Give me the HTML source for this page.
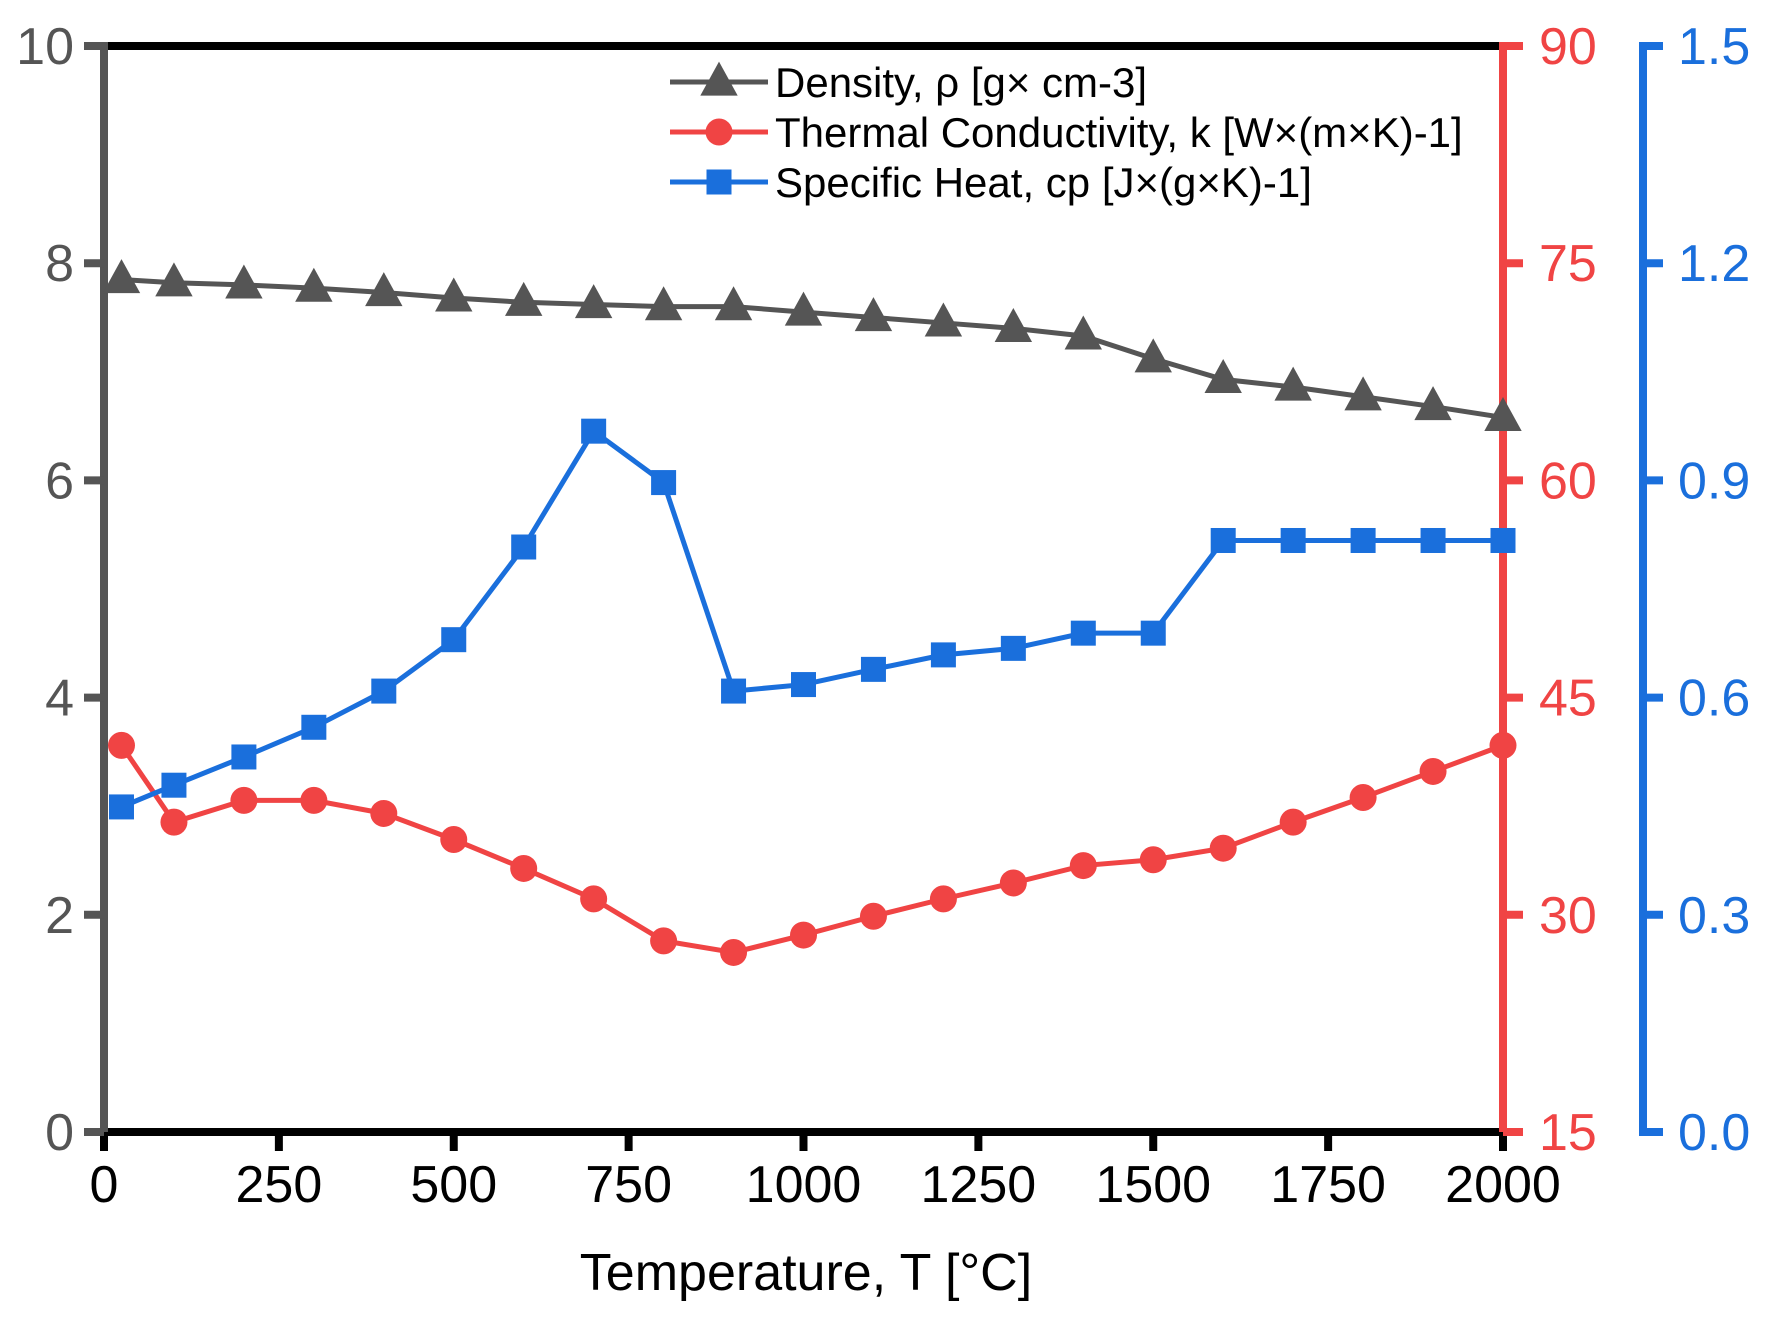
<!DOCTYPE html>
<html><head><meta charset="utf-8"><style>
html,body{margin:0;padding:0;background:#fff;}
svg{display:block;font-family:"Liberation Sans",Arial,sans-serif;}
</style></head><body>
<svg id="chart" width="1776" height="1320" viewBox="0 0 1776 1320"></svg>
<script>
const temps=[25,100,200,300,400,500,600,700,800,900,1000,1100,1200,1300,1400,1500,1600,1700,1800,1900,2000];
const density=[7.85,7.82,7.8,7.77,7.73,7.68,7.64,7.62,7.6,7.6,7.55,7.5,7.45,7.4,7.33,7.12,6.93,6.86,6.77,6.68,6.58];
const conductivity=[41.7,36.4,37.9,37.9,37.0,35.2,33.2,31.1,28.2,27.4,28.6,29.9,31.1,32.2,33.4,33.8,34.6,36.4,38.1,39.9,41.7];
const specificHeat=[0.449,0.479,0.518,0.559,0.609,0.680,0.808,0.968,0.897,0.609,0.618,0.639,0.659,0.668,0.689,0.689,0.817,0.817,0.817,0.817,0.817];
const xTicks=[0,250,500,750,1000,1250,1500,1750,2000];
const leftTicks=[0,2,4,6,8,10];
const redTicks=[15,30,45,60,75,90];
const blueTicks=["0.0","0.3","0.6","0.9","1.2","1.5"];

const NS="http://www.w3.org/2000/svg";
const svg=document.getElementById('chart');
const L=104,R=1503,T=46,B=1132,BX=1643;
const GRAY="#555555",RED="#F04444",BLUE="#1A6FDC";
const FS=52;
const sx=v=>L+(v/2000)*(R-L);
const sy1=v=>B-(v/10)*(B-T);
const sy2=v=>B-((v-15)/75)*(B-T);
const sy3=v=>B-(v/1.5)*(B-T);
function el(tag,attrs,parent){const e=document.createElementNS(NS,tag);for(const k in attrs)e.setAttribute(k,attrs[k]);(parent||svg).appendChild(e);return e;}
function txt(s,attrs,parent){const e=el('text',attrs,parent);e.textContent=s;return e;}

const topBorder=el('line',{x1:L,y1:T,x2:R,y2:T,stroke:'#000','stroke-width':8});


const xa=el('line',{x1:L-4,y1:B,x2:R,y2:B,stroke:'#000','stroke-width':8});


const la=el('line',{x1:L,y1:T-4,x2:L,y2:B+4,stroke:GRAY,'stroke-width':8});


const ra=el('line',{x1:R,y1:T-4,x2:R,y2:B+4,stroke:RED,'stroke-width':8});


const ba=el('line',{x1:BX,y1:T-4,x2:BX,y2:B+4,stroke:BLUE,'stroke-width':8});



xTicks.forEach(v=>{
  const t=el('line',{x1:sx(v),y1:B,x2:sx(v),y2:B+19,stroke:'#000','stroke-width':8});
  
  
  const l=txt(String(v),{x:sx(v),y:B+70,'text-anchor':'middle','font-size':FS,fill:'#000'});
  
  
});
leftTicks.forEach(v=>{
  const t=el('line',{x1:L-20,y1:sy1(v),x2:L,y2:sy1(v),stroke:GRAY,'stroke-width':8});
  
  
  const l=txt(String(v),{x:L-30,y:sy1(v)+18,'text-anchor':'end','font-size':FS,fill:GRAY});
  
  
});
redTicks.forEach(v=>{
  const t=el('line',{x1:R,y1:sy2(v),x2:R+20,y2:sy2(v),stroke:RED,'stroke-width':8});
  
  
  const l=txt(String(v),{x:R+36,y:sy2(v)+18,'font-size':FS,fill:RED});
  
  
});
blueTicks.forEach(v=>{
  const y=sy3(parseFloat(v));
  const t=el('line',{x1:BX,y1:y,x2:BX+20,y2:y,stroke:BLUE,'stroke-width':8});
  
  
  const l=txt(v,{x:BX+35,y:y+18,'font-size':FS,fill:BLUE});
  
  
});
const xt=txt('Temperature, T [°C]',{x:806,y:1290,'text-anchor':'middle','font-size':FS,fill:'#000'});



function tri(cx,cy,s,color,parent){return el('polygon',{points:`${cx},${cy-s*0.6} ${cx-s*0.55},${cy+s*0.4} ${cx+s*0.55},${cy+s*0.4}`,fill:color},parent);}
function series(vals,sy,color,marker,name){
  const g=el('g',{});
  
  
  const pts=vals.map((v,i)=>[sx(temps[i]),sy(v)]);
  const p=el('polyline',{points:pts.map(p=>p.join(',')).join(' '),fill:'none',stroke:color,'stroke-width':5},g);
  
  
  pts.forEach(([x,y])=>{
    let m;
    if(marker==='tri') m=tri(x,y,34,color,g);
    else if(marker==='circle') m=el('circle',{cx:x,cy:y,r:13.5,fill:color},g);
    else m=el('rect',{x:x-12.5,y:y-12.5,width:25,height:25,fill:color},g);
    
    
  });
}
series(density,sy1,GRAY,'tri','density');
series(conductivity,sy2,RED,'circle','conductivity');
series(specificHeat,sy3,BLUE,'square','specific-heat');

const lg=el('g',{});


const items=[['Density, ρ [g× cm-3]',GRAY,'tri',82],['Thermal Conductivity, k [W×(m×K)-1]',RED,'circle',132],['Specific Heat, cp [J×(g×K)-1]',BLUE,'square',182]];
items.forEach(([label,color,m,y])=>{
  const g=el('g',{},lg);
  
  
  el('line',{x1:670,y1:y,x2:768,y2:y,stroke:color,'stroke-width':5},g);
  if(m==='tri') tri(719,y,34,color,g);
  else if(m==='circle') el('circle',{cx:719,cy:y,r:13.5,fill:color},g);
  else el('rect',{x:706.5,y:y-12.5,width:25,height:25,fill:color},g);
  txt(label,{x:775,y:y+15,'font-size':42,fill:'#000'},g);
});
</script>
</body></html>
